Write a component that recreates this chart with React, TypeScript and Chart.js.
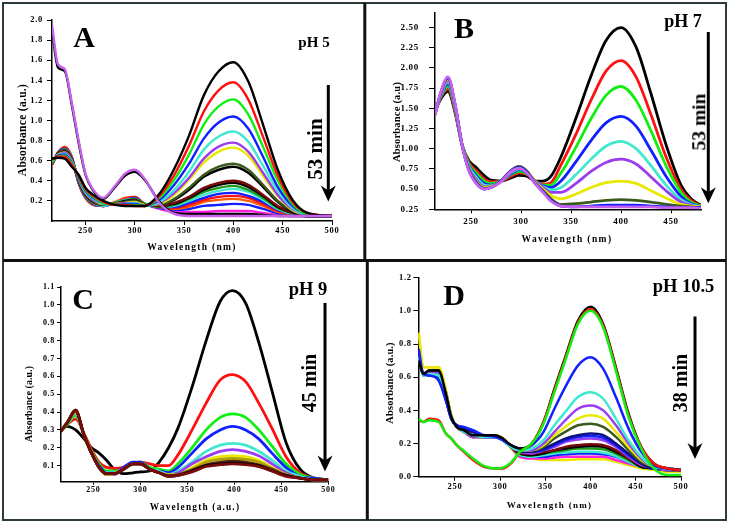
import React, { useEffect, useRef } from 'react';
import { Chart, registerables } from 'chart.js';
Chart.register(...registerables);

const FONT = '"Liberation Serif", "Times New Roman", serif';

// ---------- Panel A (pH 5) ----------
const gridA = [216,222,229,236,243,250,258,268,280,290,300,310,325,340,355,370,385,400,415,430,445,460,475,500];
const aViolet = [1.95,1.56,1.51,1.18,0.80,0.47,0.31,0.23,0.35,0.47,0.51,0.42,0.18,0.07,0.05,0.05,0.05,0.05,0.05,0.05,0.05,0.05,0.05,0.05];
const aBlackEnd = [1.90,1.53,1.49,1.16,0.78,0.46,0.30,0.22,0.34,0.45,0.49,0.41,0.19,0.08,0.07,0.07,0.07,0.07,0.07,0.06,0.05,0.05,0.05,0.05];
const a1 = [.62,.63,.62,.54,.46,.33,.26,.20,.16,.15,.15,.15,.27,.52,.85,1.25,1.49,1.58,1.39,.96,.51,.21,.08,.05];
const a2 = [.61,.64,.64,.56,.45,.32,.25,.19,.16,.16,.15,.15,.25,.46,.75,1.09,1.30,1.38,1.21,.84,.45,.19,.08,.05];
const a3 = [.60,.64,.65,.57,.44,.31,.24,.18,.16,.16,.16,.15,.23,.41,.66,.96,1.14,1.21,1.06,.74,.40,.17,.07,.05];
const a4 = [.60,.65,.66,.58,.43,.30,.23,.18,.16,.17,.17,.15,.21,.36,.57,.82,.98,1.04,.92,.64,.34,.15,.07,.05];
const a5 = [.59,.65,.67,.59,.43,.29,.22,.17,.16,.17,.18,.15,.19,.31,.49,.71,.84,.89,.79,.55,.30,.13,.06,.05];
const a6 = [.59,.65,.68,.60,.42,.28,.21,.17,.16,.18,.18,.15,.18,.28,.43,.62,.74,.78,.69,.48,.26,.12,.06,.05];
const a7 = [.59,.66,.68,.60,.42,.28,.21,.17,.17,.18,.19,.16,.17,.26,.41,.58,.69,.73,.65,.45,.25,.11,.06,.05];
const a8 = [.58,.66,.69,.61,.41,.27,.20,.16,.17,.19,.20,.16,.16,.22,.33,.46,.54,.57,.51,.36,.20,.10,.06,.05];
const a9 = [.58,.66,.69,.61,.41,.27,.20,.16,.17,.19,.20,.16,.16,.21,.31,.44,.51,.54,.48,.34,.19,.09,.06,.05];
const a10 = [.58,.67,.70,.62,.40,.26,.19,.16,.17,.19,.21,.16,.15,.18,.24,.33,.38,.40,.36,.26,.15,.08,.05,.05];
const a11 = [.58,.67,.70,.62,.40,.26,.19,.16,.17,.20,.21,.16,.15,.17,.23,.31,.36,.38,.34,.25,.14,.08,.05,.05];
const a12 = [.57,.67,.71,.62,.40,.25,.18,.16,.18,.20,.22,.17,.14,.16,.22,.29,.33,.35,.31,.23,.13,.08,.05,.05];
const a13 = [.57,.67,.71,.63,.39,.25,.18,.15,.18,.21,.22,.17,.14,.15,.20,.26,.30,.32,.29,.21,.12,.07,.05,.05];
const a14 = [.57,.68,.72,.63,.39,.24,.17,.15,.18,.21,.23,.17,.14,.14,.18,.23,.27,.28,.25,.19,.11,.07,.05,.05];
const a15 = [.56,.68,.73,.64,.38,.24,.17,.15,.18,.22,.24,.17,.14,.13,.16,.21,.24,.25,.23,.17,.10,.07,.05,.05];
const a16 = [.56,.68,.74,.64,.38,.23,.16,.15,.19,.23,.24,.17,.14,.12,.14,.19,.21,.22,.20,.15,.09,.06,.05,.06];
const a17 = [.56,.67,.72,.63,.38,.23,.16,.15,.18,.22,.23,.17,.13,.11,.12,.15,.16,.17,.16,.12,.08,.06,.05,.05];
const a18 = [.56,.67,.72,.63,.38,.23,.16,.15,.18,.22,.23,.17,.12,.09,.09,.09,.10,.10,.10,.08,.06,.05,.05,.05];
const xTicksA = [250,300,350,400,450,500];
const yTicksA = [0.2,0.4,0.6,0.8,1.0,1.2,1.4,1.6,1.8,2.0];

// ---------- Panel B (pH 7) ----------
const gridB = [214,220,227,234,241,248,255,263,270,280,290,298,306,314,322,330,340,355,370,385,400,415,430,445,460,470,480];
const bBlack = [1.47,1.62,1.71,1.45,1.05,0.85,0.77,0.67,0.61,0.60,0.64,0.67,0.66,0.60,.60,.66,.90,1.38,1.90,2.34,2.50,2.26,1.68,1.05,.55,.38,.30];
const bRed = [1.46,1.64,1.74,1.47,1.05,0.83,0.73,0.63,0.59,0.60,0.66,0.70,0.68,0.60,.56,.58,.80,1.18,1.60,1.96,2.09,1.89,1.42,.90,.50,.36,.29];
const bGreen = [1.45,1.65,1.77,1.49,1.05,0.81,0.70,0.60,0.57,0.60,0.68,0.72,0.69,0.60,.55,.55,.70,1.02,1.37,1.66,1.77,1.60,1.22,.79,.46,.34,.29];
const bBlue = [1.45,1.66,1.80,1.51,1.05,0.79,0.67,0.57,0.55,0.60,0.69,0.74,0.70,0.60,.54,.52,.60,.84,1.10,1.32,1.40,1.28,.98,.66,.41,.32,.28];
const bCyan = [1.44,1.67,1.82,1.52,1.05,0.78,0.65,0.55,0.54,0.60,0.70,0.75,0.71,0.60,.53,.49,.52,.68,.87,1.03,1.09,1.00,.79,.55,.37,.31,.28];
const bPurple = [1.44,1.68,1.84,1.53,1.05,0.76,0.62,0.53,0.53,0.60,0.71,0.76,0.71,0.60,.52,.46,.46,.57,.72,.83,.87,.81,.65,.48,.34,.30,.28];
const bYellow = [1.43,1.69,1.86,1.54,1.05,0.75,0.60,0.52,0.53,0.60,0.72,0.77,0.72,0.59,.50,.42,.38,.44,.52,.58,.60,.57,.48,.39,.31,.29,.28];
const bOlive = [1.43,1.70,1.87,1.55,1.05,0.74,0.59,0.51,0.52,0.60,0.73,0.78,0.72,0.58,.48,.38,.31,.32,.34,.36,.37,.36,.34,.31,.29,.28,.27];
const bNavy = [1.42,1.70,1.88,1.55,1.05,0.73,0.58,0.50,0.52,0.60,0.73,0.77,0.71,0.57,.47,.36,.29,.28,.29,.30,.30,.30,.29,.28,.27,.27,.27];
const bViolet = [1.42,1.71,1.89,1.56,1.05,0.72,0.57,0.50,0.52,0.59,0.72,0.76,0.70,0.57,.46,.35,.29,.28,.28,.28,.28,.28,.28,.27,.27,.27,.26];
const xTicksB = [250,300,350,400,450];
const yTicksB = [0.25,0.5,0.75,1.0,1.25,1.5,1.75,2.0,2.25,2.5];

// ---------- Panel C (pH 9) ----------
const gridC = [215,222,231,240,248,256,264,272,282,292,300,310,320,330,340,355,370,385,398,412,426,440,455,470,485,500];
const cBlack = [.30,.32,.30,.25,.20,.17,.13,.08,.055,.06,.065,.07,.12,.20,.31,.54,.80,1.02,1.08,1.01,.79,.52,.23,.08,.03,.02];
const cRed = [.29,.33,.36,.28,.19,.12,.09,.085,.09,.11,.12,.11,.10,.10,.16,.30,.45,.58,.61,.57,.45,.31,.15,.06,.03,.02];
const cGreen = [.29,.33,.38,.27,.18,.11,.07,.07,.08,.11,.12,.09,.08,.07,.11,.20,.30,.37,.39,.37,.30,.21,.11,.05,.03,.02];
const cBlue = [.29,.34,.39,.27,.17,.10,.06,.06,.09,.12,.12,.08,.07,.06,.09,.17,.25,.30,.32,.30,.25,.17,.09,.04,.03,.02];
const cCyan = [.29,.34,.39,.27,.17,.09,.06,.06,.08,.11,.11,.08,.07,.05,.07,.12,.18,.215,.225,.215,.18,.13,.07,.04,.02,.02];
const cPurple = [.29,.34,.40,.27,.17,.09,.05,.05,.08,.11,.11,.08,.06,.05,.06,.11,.15,.18,.19,.18,.155,.11,.06,.03,.02,.02];
const cYellow = [.29,.34,.40,.27,.17,.09,.05,.055,.08,.11,.11,.08,.06,.05,.05,.09,.13,.15,.155,.15,.13,.09,.05,.03,.02,.02];
const cOlive = [.29,.34,.40,.27,.17,.09,.05,.055,.08,.11,.11,.08,.06,.045,.05,.08,.12,.135,.14,.135,.12,.085,.05,.03,.02,.02];
const cBrown = [.29,.34,.41,.27,.17,.09,.055,.055,.08,.11,.11,.08,.06,.045,.05,.075,.105,.12,.125,.12,.105,.08,.045,.03,.02,.02];
const cBlack2 = [.29,.34,.41,.27,.17,.09,.055,.055,.08,.11,.11,.08,.06,.04,.045,.07,.10,.11,.115,.11,.10,.07,.045,.03,.02,.02];
const cDarkRed = [.29,.34,.41,.27,.17,.09,.055,.055,.08,.11,.11,.08,.06,.04,.045,.065,.095,.105,.11,.105,.095,.07,.04,.03,.02,.02];
const xTicksC = [250,300,350,400,450,500];
const yTicksC = [0.1,0.2,0.3,0.4,0.5,0.6,0.7,0.8,0.9,1.0,1.1];

// ---------- Panel D (pH 10.5) ----------
const gridD = [210,215,222,232,240,246,252,260,270,282,294,303,312,322,335,348,360,372,386,400,414,428,442,456,470,485,500];
const dGreen = [.35,.33,.34,.33,.26,.23,.19,.155,.11,.065,.05,.055,.085,.15,.20,.32,.51,.70,.92,1.00,.90,.64,.36,.17,.05,.01,.01];
const dRed = [.34,.33,.35,.34,.26,.23,.19,.15,.10,.06,.05,.05,.08,.15,.20,.33,.52,.71,.93,1.01,.91,.65,.37,.18,.08,.05,.04];
const dBlack = [.70,.62,.64,.64,.50,.36,.30,.28,.25,.25,.25,.23,.19,.17,.20,.33,.53,.72,.94,1.025,.92,.66,.38,.18,.08,.05,.04];
const dBlue = [.77,.62,.61,.58,.46,.35,.31,.30,.28,.25,.24,.22,.19,.17,.19,.27,.41,.54,.67,.72,.65,.48,.29,.15,.07,.05,.04];
const dCyan = [.72,.61,.62,.61,.49,.36,.30,.27,.25,.24,.24,.22,.18,.16,.17,.22,.31,.39,.48,.51,.47,.35,.22,.12,.06,.05,.04];
const dPurple = [.73,.62,.63,.62,.50,.36,.30,.27,.24,.24,.24,.22,.18,.16,.16,.20,.27,.34,.41,.43,.40,.31,.20,.11,.06,.05,.04];
const dYellow = [.87,.66,.66,.66,.52,.37,.30,.27,.24,.24,.25,.23,.18,.16,.16,.19,.25,.30,.35,.37,.35,.27,.18,.10,.06,.05,.04];
const dOlive = [.70,.62,.64,.64,.51,.36,.30,.28,.25,.25,.25,.23,.18,.16,.16,.18,.23,.27,.31,.32,.30,.24,.16,.09,.06,.05,.04];
const dNavy = [.74,.62,.62,.60,.47,.35,.31,.29,.27,.24,.24,.22,.18,.15,.15,.17,.20,.23,.25,.26,.25,.20,.14,.08,.05,.05,.04];
const dBlue2 = [.75,.62,.62,.60,.47,.35,.31,.29,.27,.24,.24,.22,.18,.15,.15,.16,.19,.22,.24,.245,.235,.19,.13,.08,.05,.05,.04];
const dPurple2 = [.72,.61,.63,.62,.50,.36,.30,.27,.24,.24,.24,.22,.18,.15,.14,.16,.18,.21,.225,.23,.22,.18,.12,.07,.05,.04,.04];
const dDarkRed = [.70,.62,.64,.63,.51,.36,.30,.27,.24,.24,.25,.23,.18,.14,.14,.15,.16,.18,.19,.195,.19,.16,.11,.07,.05,.04,.04];
const dBlack2 = [.70,.62,.64,.64,.51,.36,.30,.28,.25,.25,.25,.23,.18,.14,.13,.14,.16,.17,.18,.185,.18,.15,.11,.06,.05,.04,.04];
const dGreen2 = [.71,.62,.64,.64,.51,.36,.30,.28,.25,.25,.25,.23,.18,.14,.13,.14,.15,.16,.17,.17,.165,.14,.10,.06,.05,.04,.04];
const dCyan2 = [.72,.61,.62,.61,.49,.36,.30,.27,.25,.24,.24,.22,.18,.13,.12,.13,.14,.145,.15,.15,.145,.125,.09,.06,.05,.04,.04];
const dBlue3 = [.76,.62,.61,.59,.46,.35,.31,.29,.27,.24,.24,.22,.18,.13,.12,.12,.13,.135,.14,.14,.135,.12,.09,.06,.05,.04,.04];
const dMagenta = [.72,.62,.63,.63,.50,.36,.30,.27,.24,.24,.24,.22,.18,.12,.11,.11,.115,.12,.12,.12,.12,.10,.08,.06,.05,.04,.04];
const dYellow2 = [.86,.66,.66,.66,.52,.37,.30,.27,.24,.24,.25,.23,.17,.12,.11,.10,.10,.10,.105,.105,.105,.09,.07,.05,.04,.03,.03];
const xTicksD = [250,300,350,400,450,500];
const yTicksD = [0,0.2,0.4,0.6,0.8,1.0,1.2];

const C = {
  black: '#000000', red: '#ff1010', green: '#10f010', blue: '#1020ff', cyan: '#40e8d0',
  purple: '#9a3cf0', yellow: '#e8e800', olive: '#3b5a1c', navy: '#101080', darkred: '#7a0a0a',
  orange: '#ff5a00', magenta: '#ff20e0', violet: '#c860f0', brown: '#5a2a10',
};

type Series = { color: string; values: number[] };
type Panel = {
  grid: number[]; series: Series[];
  xMin: number; xMax: number; yMin: number; yMax: number;
  xTicks: number[]; yTicks: number[]; yDec: number;
  area: { l: number; t: number; r: number; b: number };
  font: number; yTL: number; yPad: number; xTL: number; xPad: number; lw: number;
};

const panels: Panel[] = [
  {
    grid: gridA,
    series: [
      { color: C.violet, values: aViolet }, { color: C.black, values: aBlackEnd },
      { color: C.black, values: a1 }, { color: C.red, values: a2 }, { color: C.green, values: a3 },
      { color: C.blue, values: a4 }, { color: C.cyan, values: a5 }, { color: C.purple, values: a6 },
      { color: C.yellow, values: a7 }, { color: C.olive, values: a8 }, { color: C.black, values: a9 },
      { color: C.darkred, values: a10 }, { color: C.black, values: a11 }, { color: '#1a9a1a', values: a12 },
      { color: C.cyan, values: a13 }, { color: C.blue, values: a14 }, { color: C.red, values: a15 },
      { color: C.orange, values: a16 }, { color: C.blue, values: a17 }, { color: C.magenta, values: a18 },
    ],
    xMin: 216, xMax: 500, yMin: 0, yMax: 2.0, xTicks: xTicksA, yTicks: yTicksA, yDec: 1,
    area: { l: 52, t: 20, r: 332, b: 221 }, font: 8.5, yTL: 5, yPad: 4, xTL: 4, xPad: 1, lw: 2.4,
  },
  {
    grid: gridB,
    series: [
      { color: C.violet, values: bViolet }, { color: C.blue, values: bNavy }, { color: C.olive, values: bOlive },
      { color: C.yellow, values: bYellow }, { color: C.purple, values: bPurple }, { color: C.cyan, values: bCyan },
      { color: C.blue, values: bBlue }, { color: C.green, values: bGreen }, { color: C.red, values: bRed },
      { color: C.black, values: bBlack },
    ],
    xMin: 214, xMax: 480, yMin: 0.25, yMax: 2.68, xTicks: xTicksB, yTicks: yTicksB, yDec: 2,
    area: { l: 435, t: 13, r: 701, b: 209.3 }, font: 9, yTL: 6, yPad: 10, xTL: 4, xPad: 3, lw: 2.8,
  },
  {
    grid: gridC,
    series: [
      { color: C.darkred, values: cDarkRed }, { color: C.black, values: cBlack2 }, { color: C.brown, values: cBrown },
      { color: '#b0a000', values: cOlive }, { color: C.yellow, values: cYellow }, { color: C.purple, values: cPurple },
      { color: C.cyan, values: cCyan }, { color: C.blue, values: cBlue }, { color: C.green, values: cGreen },
      { color: C.red, values: cRed }, { color: C.black, values: cBlack },
    ],
    xMin: 215.5, xMax: 500, yMin: 0.01, yMax: 1.1, xTicks: xTicksC, yTicks: yTicksC, yDec: 1,
    area: { l: 61, t: 287, r: 328.3, b: 481.7 }, font: 8, yTL: 4, yPad: 2, xTL: 3, xPad: 0, lw: 2.8,
  },
  {
    grid: gridD,
    series: [
      { color: C.green, values: dGreen }, { color: C.red, values: dRed }, { color: C.black, values: dBlack },
      { color: C.blue, values: dBlue }, { color: C.cyan, values: dCyan }, { color: C.purple, values: dPurple },
      { color: C.yellow, values: dYellow }, { color: C.olive, values: dOlive }, { color: C.navy, values: dNavy },
      { color: C.blue, values: dBlue2 }, { color: C.purple, values: dPurple2 }, { color: C.darkred, values: dDarkRed },
      { color: C.black, values: dBlack2 }, { color: '#1a9a1a', values: dGreen2 }, { color: C.cyan, values: dCyan2 },
      { color: C.blue, values: dBlue3 }, { color: C.magenta, values: dMagenta }, { color: C.yellow, values: dYellow2 },
    ],
    xMin: 209.5, xMax: 500, yMin: 0, yMax: 1.2, xTicks: xTicksD, yTicks: yTicksD, yDec: 1,
    area: { l: 418.3, t: 277.7, r: 681, b: 476.7 }, font: 8.5, yTL: 5, yPad: 1.5, xTL: 4, xPad: 1, lw: 2.5,
  },
];

const spacingPlugin = {
  id: 'letterSpacing',
  beforeDraw(chart: any) { chart.ctx.letterSpacing = '0.7px'; },
};

function SpectraChart({ p }: { p: Panel }) {
  const ref = useRef<HTMLCanvasElement | null>(null);
  const bx = Math.floor(p.area.l) - 46;
  const by = Math.floor(p.area.t) - 8;
  const bw = Math.ceil(p.area.r) + 14 - bx;
  const bh = Math.ceil(p.area.b) + 24 - by;
  useEffect(() => {
    if (!ref.current) return;
    const yW = p.area.l - bx;
    const padT = p.area.t - by;
    const padR = bx + bw - p.area.r;
    const xH = by + bh - p.area.b;
    const font = { family: FONT, weight: 'bold' as const, size: p.font };
    const chart = new Chart(ref.current, {
      type: 'line',
      data: {
        datasets: p.series.map((s) => ({
          data: s.values.map((v, i) => ({ x: p.grid[i], y: v })),
          borderColor: s.color,
          backgroundColor: s.color,
          borderWidth: p.lw,
          pointRadius: 0,
          cubicInterpolationMode: 'monotone' as const,
          fill: false,
        })),
      },
      options: {
        animation: false,
        responsive: false,
        maintainAspectRatio: false,
        events: [],
        layout: { padding: { left: 0, top: padT, right: padR, bottom: 0 } },
        plugins: { legend: { display: false }, tooltip: { enabled: false }, title: { display: false } },
        scales: {
          x: {
            type: 'linear', min: p.xMin, max: p.xMax,
            afterBuildTicks: (s: any) => { s.ticks = p.xTicks.map((v) => ({ value: v })); },
            afterFit: (s: any) => { s.height = xH; s.paddingLeft = 0; s.paddingRight = 0; },
            ticks: { font, color: '#000', padding: p.xPad, maxRotation: 0, autoSkip: false, callback: (v: any) => String(v) },
            grid: { drawOnChartArea: false, drawTicks: true, tickLength: p.xTL, color: '#000', lineWidth: 1 },
            border: { display: true, color: '#000', width: 1.5 },
          },
          y: {
            type: 'linear', min: p.yMin, max: p.yMax,
            afterBuildTicks: (s: any) => { s.ticks = p.yTicks.map((v) => ({ value: v })); },
            afterFit: (s: any) => { s.width = yW; s.paddingTop = 0; s.paddingBottom = 0; },
            ticks: { font, color: '#000', padding: p.yPad, autoSkip: false, callback: (v: any) => Number(v).toFixed(p.yDec) },
            grid: { drawOnChartArea: false, drawTicks: true, tickLength: p.yTL, color: '#000', lineWidth: 1 },
            border: { display: true, color: '#000', width: 1.5 },
          },
        },
      } as any,
      plugins: [spacingPlugin],
    });
    return () => chart.destroy();
  }, []);
  return (
    <canvas
      ref={ref}
      width={bw}
      height={bh}
      style={{ position: 'absolute', left: bx, top: by, width: bw, height: bh }}
    />
  );
}

type Label = { t: string; x: number; y: number; s: number; rot?: boolean; ls?: number };
const labels: Label[] = [
  { t: 'A', x: 84, y: 37, s: 30 }, { t: 'pH 5', x: 314, y: 42, s: 15 }, { t: '53 min', x: 314.5, y: 149, s: 21, rot: true },
  { t: 'Absorbance (a.u.)', x: 23, y: 130, s: 11.5, rot: true, ls: 0.3 }, { t: 'Wavelength (nm)', x: 192, y: 248, s: 9.5, ls: 1.3 },
  { t: 'B', x: 464, y: 28, s: 30 }, { t: 'pH 7', x: 683, y: 21, s: 18 }, { t: '53 min', x: 698.5, y: 121.5, s: 19.5, rot: true },
  { t: 'Absorbance (a.u)', x: 396.5, y: 122, s: 10.5, rot: true, ls: 0.2 }, { t: 'Wavelength (nm)', x: 567, y: 240, s: 9.5, ls: 1.4 },
  { t: 'C', x: 83, y: 299, s: 30 }, { t: 'pH 9', x: 308, y: 289, s: 18.5 }, { t: '45 min', x: 308.5, y: 382.5, s: 20, rot: true },
  { t: 'Absorbance (a.u.)', x: 29, y: 404, s: 9.8, rot: true, ls: 0.1 }, { t: 'Wavelength (a.u.)', x: 195, y: 507.5, s: 9.3, ls: 1.2 },
  { t: 'D', x: 454, y: 295, s: 30 }, { t: 'pH 10.5', x: 683.5, y: 286, s: 18.5 }, { t: '38 min', x: 679.5, y: 382.5, s: 20, rot: true },
  { t: 'Absorbance (a.u.)', x: 390, y: 383, s: 10.5, rot: true, ls: 0.1 }, { t: 'Wavelength (nm)', x: 549.5, y: 504.5, s: 9, ls: 1.3 },
];

type Arrow = { x: number; y1: number; y2: number };
const arrows: Arrow[] = [
  { x: 328.3, y1: 85, y2: 201.5 },
  { x: 708.3, y1: 32, y2: 203.3 },
  { x: 325, y1: 303, y2: 471.5 },
  { x: 695, y1: 316.5, y2: 459 },
];

export default function App() {
  return (
    <div style={{ position: 'absolute', left: 0, top: 0, width: 731, height: 525, background: '#fff', fontFamily: FONT, overflow: 'hidden' }}>
      {panels.map((p, i) => <SpectraChart key={i} p={p} />)}
      {labels.map((l, i) => (
        <div
          key={i}
          style={{
            position: 'absolute', left: l.x, top: l.y, fontSize: l.s, fontWeight: 700, lineHeight: 1,
            whiteSpace: 'nowrap', letterSpacing: l.ls ? `${l.ls}px` : undefined, color: '#000',
            transform: `translate(-50%, -50%)${l.rot ? ' rotate(-90deg)' : ''}`,
          }}
        >
          {l.t}
        </div>
      ))}
      <svg width={731} height={525} style={{ position: 'absolute', left: 0, top: 0, pointerEvents: 'none' }}>
        <rect x={3} y={3} width={723} height={517} fill="none" stroke="#2c3a3e" strokeWidth={2} />
        <line x1={364.8} y1={3} x2={364.8} y2={261} stroke="#111" strokeWidth={3} />
        <line x1={367.3} y1={260} x2={367.3} y2={520} stroke="#111" strokeWidth={3} />
        <line x1={3} y1={260.5} x2={726} y2={260.5} stroke="#111" strokeWidth={3} />
        {arrows.map((a, i) => (
          <g key={i}>
            <line x1={a.x} y1={a.y1} x2={a.x} y2={a.y2 - 10} stroke="#000" strokeWidth={3} />
            <polygon
              points={`${a.x},${a.y2} ${a.x - 7.5},${a.y2 - 16} ${a.x},${a.y2 - 11} ${a.x + 7.5},${a.y2 - 16}`}
              fill="#000"
            />
          </g>
        ))}
      </svg>
    </div>
  );
}
